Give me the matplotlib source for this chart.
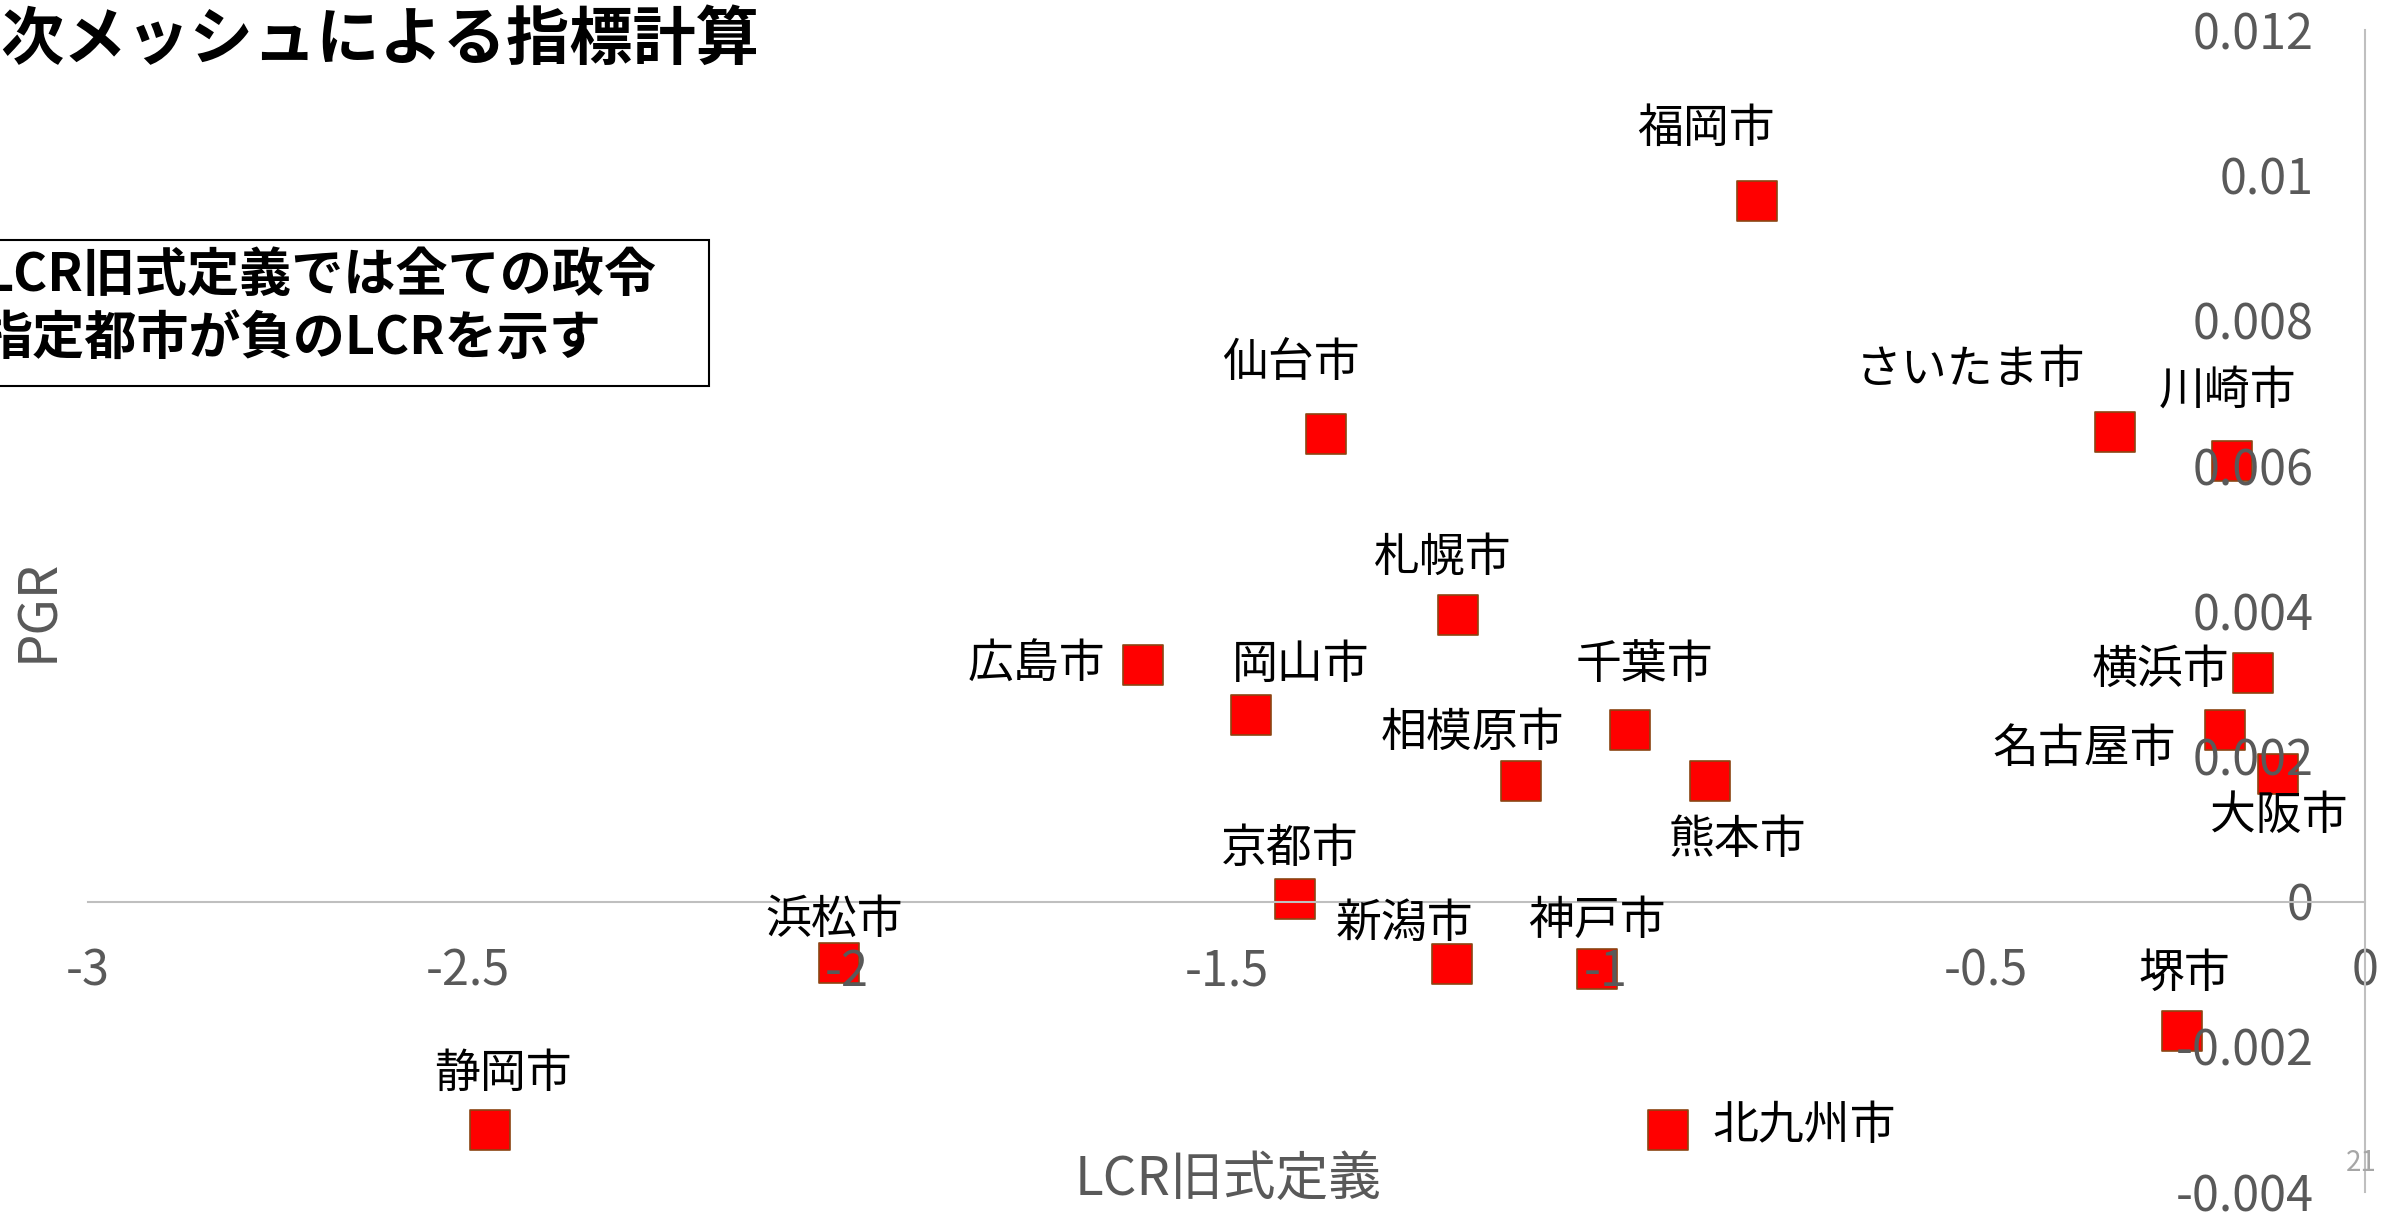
import matplotlib
matplotlib.use('Agg')
import matplotlib.pyplot as plt
from matplotlib.patches import Rectangle

plt.rcParams['font.family'] = ['Noto Sans CJK JP', 'DejaVu Sans']

# LCR (old definition) vs PGR for the designated cities
cities = ['福岡市', '仙台市', 'さいたま市', '川崎市', '札幌市', '広島市', '岡山市',
          '千葉市', '相模原市', '熊本市', '横浜市', '名古屋市', '大阪市', '京都市',
          '新潟市', '神戸市', '浜松市', '静岡市', '北九州市', '堺市']
lcr = [-0.801, -1.369, -0.329, -0.175, -1.195, -1.610, -1.468,
       -0.968, -1.112, -0.863, -0.147, -0.185, -0.114, -1.410,
       -1.203, -1.012, -2.010, -2.470, -0.918, -0.241]
pgr = [0.00965, 0.00644, 0.00646, 0.00606, 0.00395, 0.00326, 0.00257,
       0.00236, 0.00166, 0.00166, 0.00315, 0.00236, 0.00175, 0.00004,
       -0.00086, -0.00093, -0.00084, -0.00315, -0.00315, -0.00179]

x_ticks = [-3, -2.5, -2, -1.5, -1, -0.5, 0]
x_tick_labels = ['-3', '-2.5', '-2', '-1.5', '-1', '-0.5', '0']
y_ticks = [-0.004, -0.002, 0, 0.002, 0.004, 0.006, 0.008, 0.01, 0.012]
y_tick_labels = ['-0.004', '-0.002', '0', '0.002', '0.004', '0.006', '0.008', '0.01', '0.012']

# label offsets from each marker, in points
label_offsets = {
    '福岡市': (-37, 52), '仙台市': (-25, 51), 'さいたま市': (-104, 45), '川崎市': (-3, 51),
    '札幌市': (-11, 41), '広島市': (-77, 0), '岡山市': (36, 36), '千葉市': (10, 47),
    '相模原市': (-35, 35), '熊本市': (20, -42), '横浜市': (-67, 2), '名古屋市': (-101, -13),
    '大阪市': (0, -30), '京都市': (-4, 36), '新潟市': (-34, 29), '神戸市': (0, 35),
    '浜松市': (-4, 31), '静岡市': (9, 41), '北九州市': (98, 3), '堺市': (2, 42),
}

W, H = 2391, 1213
fig = plt.figure(figsize=(W / 100, H / 100), dpi=100)
ax = fig.add_axes([88 / W, 1 - 1192 / H, (2365 - 88) / W, (1192 - 30) / H])

ax.scatter(lcr, pgr, marker='s', s=830, c='#FF0000', edgecolors='#8B4513',
           linewidths=1.2, zorder=1)

for name, x, y in zip(cities, lcr, pgr):
    ax.annotate(name, xy=(x, y), xytext=label_offsets[name], textcoords='offset points',
                ha='center', va='center', fontsize=33, color='black', zorder=3)

ax.set_xlim(-3, 0)
ax.set_ylim(-0.004, 0.012)
ax.set_xticks(x_ticks)
ax.set_xticklabels(x_tick_labels)
ax.set_yticks(y_ticks)
ax.set_yticklabels(y_tick_labels)

for side in ['top', 'right']:
    ax.spines[side].set_visible(False)
ax.spines['left'].set_position(('data', 0))
ax.spines['bottom'].set_position(('data', 0))
for side in ['left', 'bottom']:
    ax.spines[side].set_color('#BFBFBF')
    ax.spines[side].set_linewidth(1.5)

ax.tick_params(axis='both', length=0, labelsize=35, labelcolor='#595959')
ax.tick_params(axis='y', pad=37)
ax.tick_params(axis='x', pad=33)
ax.patch.set_alpha(0)

# axis titles
fig.text(38 / W, 1 - 610 / H, 'PGR', rotation=90, ha='center', va='center',
         fontsize=38, color='#595959')
fig.text(1228 / W, 1 - 1180 / H, 'LCR旧式定義', ha='center', va='center',
         fontsize=38, color='#595959')

# slide title and note box
fig.text(0.0, 1 - 40 / H, '次メッシュによる指標計算', ha='left', va='center',
         fontsize=45.5, fontweight='bold', color='black')
fig.patches.append(Rectangle((-10 / W, 1 - 386 / H), 719 / W, 146 / H,
                             transform=fig.transFigure, fill=False,
                             edgecolor='black', linewidth=1.5))
fig.text(656 / W, 1 - 276 / H, 'LCR旧式定義では全ての政令', ha='right', va='center',
         fontsize=37.5, fontweight='bold', color='black')
fig.text(602 / W, 1 - 339 / H, '指定都市が負のLCRを示す', ha='right', va='center',
         fontsize=37.5, fontweight='bold', color='black')

fig.text(2361 / W, 1 - 1163 / H, '21', ha='center', va='center', fontsize=20, color='#A6A6A6')

fig.savefig('out.png', dpi=100, facecolor='white')
